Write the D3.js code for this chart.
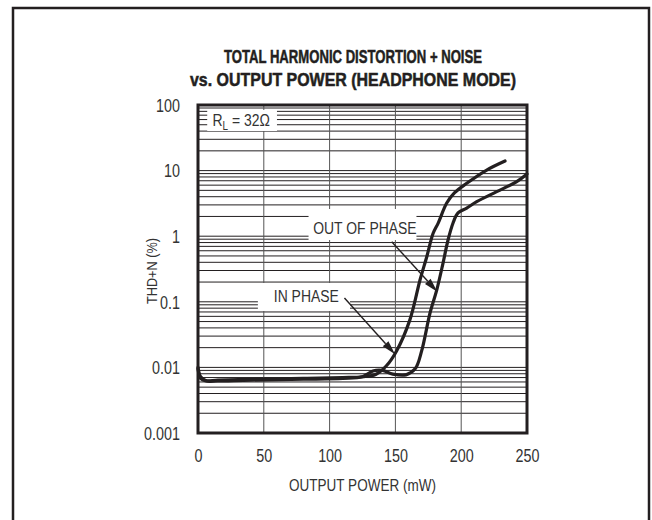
<!DOCTYPE html>
<html>
<head>
<meta charset="utf-8">
<script src="https://cdn.jsdelivr.net/npm/d3@7"></script>
<style>
  html, body { margin: 0; padding: 0; background: #fff; }
  svg { display: block; }
</style>
</head>
<body>
<svg id="chart" width="652" height="520"></svg>
<script>
// THD+N vs output power, headphone mode, RL = 32 ohm
const titleLines = ["TOTAL HARMONIC DISTORTION + NOISE", "vs. OUTPUT POWER (HEADPHONE MODE)"];
const xTicks = [0, 50, 100, 150, 200, 250];
const yTicks = [0.001, 0.01, 0.1, 1, 10, 100];
const yTickLabels = ["0.001", "0.01", "0.1", "1", "10", "100"];
const xTitle = "OUTPUT POWER (mW)";
const yTitle = "THD+N (%)";

// In-phase drive
const powerIn = [0, 2, 6, 15, 40, 80, 110, 125, 135, 143, 151, 161, 168.7, 174, 178.6, 182.6, 189, 195, 204.2, 219.4, 233.3];
const thdIn   = [0.0100, 0.0072, 0.0063, 0.0064, 0.0066, 0.0068, 0.0070, 0.0072, 0.0078, 0.0105, 0.018, 0.053, 0.215, 0.5, 1.1, 1.6, 3.2, 4.6, 6.4, 10.2, 14.0];

// Out-of-phase drive
const powerOut = [0, 2, 6, 15, 40, 80, 110, 125, 133, 140, 148, 158, 165, 170, 176.3, 181.4, 186.2, 190, 193.8, 197.6, 204.2, 211.8, 227, 242.2, 250];
const thdOut   = [0.0095, 0.0068, 0.0062, 0.0062, 0.0064, 0.0066, 0.0068, 0.0072, 0.0088, 0.0090, 0.0079, 0.0077, 0.0095, 0.018, 0.0675, 0.151, 0.39, 0.875, 1.59, 2.26, 2.69, 3.36, 4.77, 6.78, 8.87];

const seriesNames = ["IN PHASE", "OUT OF PHASE"];
const loadLabel = { main: "R", sub: "L", rest: " = 32\u03A9" };

const svg = d3.select("#chart");
const plot = { left: 198, right: 527, top: 105, bottom: 433 };

const FONT = "'Liberation Sans', Arial, sans-serif";
const NARROW = 0.82;

const x = d3.scaleLinear().domain([0, 250]).range([plot.left, plot.right]);
const y = d3.scaleLog().domain([0.001, 100]).range([plot.bottom, plot.top]);

// outer frame
svg.append("rect")
  .attr("x", 13).attr("y", 8).attr("width", 636).attr("height", 540)
  .attr("fill", "none").attr("stroke", "#231f20").attr("stroke-width", 2.5);

// condensed text helper
function ctext(parent, px, py, str, size, opts = {}) {
  const t = parent.append("text")
    .attr("transform", `translate(${px},${py}) ${opts.rotate ? "rotate(" + opts.rotate + ")" : ""} scale(${opts.sx || NARROW},1)`)
    .attr("font-family", FONT)
    .attr("font-size", size)
    .attr("font-weight", opts.weight || "normal")
    .attr("fill", opts.fill || "#333")
    .attr("text-anchor", opts.anchor || "middle")
    .text(str);
  return t;
}

// title
const titleWidths = [258, 326];
titleLines.forEach((s, i) => {
  svg.append("text")
    .attr("x", 353).attr("y", 63 + i * 23)
    .attr("font-family", FONT).attr("font-size", 18).attr("font-weight", "bold")
    .attr("fill", "#231f20").attr("stroke", "#231f20").attr("stroke-width", 0.5)
    .attr("text-anchor", "middle")
    .attr("textLength", titleWidths[i]).attr("lengthAdjust", "spacingAndGlyphs")
    .text(s);
});

// grid: horizontal lines at every minor decade step
const gridVals = [];
for (let e = -3; e <= 1; e++) for (let k = 1; k <= 9; k++) gridVals.push(k * Math.pow(10, e));
gridVals.push(100);

const grid = svg.append("g");
grid.selectAll("line.h").data(gridVals).join("line")
  .attr("class", "h")
  .attr("x1", plot.left).attr("x2", plot.right)
  .attr("y1", d => y(d)).attr("y2", d => y(d))
  .attr("stroke", "#231f20").attr("stroke-width", 1);

grid.selectAll("line.v").data(xTicks.slice(1, -1)).join("line")
  .attr("class", "v")
  .attr("x1", d => x(d)).attr("x2", d => x(d))
  .attr("y1", plot.top).attr("y2", plot.bottom)
  .attr("stroke", "#555").attr("stroke-width", 1);

// label backgrounds that mask the grid
const boxes = svg.append("g");
function maskBox(x0, y0, x1, y1) {
  boxes.append("rect").attr("x", x0).attr("y", y0).attr("width", x1 - x0).attr("height", y1 - y0).attr("fill", "#fff");
}
maskBox(x(7), 110, x(60), 131);
maskBox(x(84), 209, x(166), 240);
maskBox(x(45.5), 283, x(115.5), 311);

// curves
const line = d3.line()
  .x(d => x(d[0])).y(d => y(d[1]))
  .curve(d3.curveCatmullRom.alpha(0.5));

const series = [
  d3.zip(powerIn, thdIn),
  d3.zip(powerOut, thdOut)
];
svg.append("g").selectAll("path").data(series).join("path")
  .attr("d", line)
  .attr("fill", "none")
  .attr("stroke", "#231f20")
  .attr("stroke-width", 3.2)
  .attr("stroke-linejoin", "round")
  .attr("stroke-linecap", "round");

// plot frame
svg.append("rect")
  .attr("x", plot.left).attr("y", plot.top)
  .attr("width", plot.right - plot.left).attr("height", plot.bottom - plot.top)
  .attr("fill", "none").attr("stroke", "#231f20").attr("stroke-width", 3);

// axes (labels only)
const yAxis = svg.append("g")
  .attr("transform", `translate(${plot.left},0)`)
  .call(d3.axisLeft(y).tickValues(yTicks).tickSize(0).tickFormat((d, i) => yTickLabels[i]));
const xAxis = svg.append("g")
  .attr("transform", `translate(0,${plot.bottom})`)
  .call(d3.axisBottom(x).tickValues(xTicks).tickSize(0).tickFormat(d3.format("d")));
[yAxis, xAxis].forEach(a => {
  a.select(".domain").remove();
  a.selectAll("text")
    .attr("font-family", FONT)
    .attr("font-size", 17.5)
    .attr("fill", "#333");
});
yAxis.selectAll("text")
  .attr("x", null).attr("dy", null)
  .attr("transform", `translate(-18,6.3) scale(${NARROW},1)`);
xAxis.selectAll("text")
  .attr("y", null).attr("dy", null)
  .attr("transform", `translate(0,29) scale(${NARROW},1)`);

// axis titles
ctext(svg, (plot.left + plot.right) / 2, 491, xTitle, 16.5);
ctext(svg, 157, (plot.top + plot.bottom) / 2 + 2, yTitle, 15.5, { rotate: -90 });

// load annotation
const rl = ctext(svg, x(11), 126, "", 17, { anchor: "start" });
rl.append("tspan").text(loadLabel.main);
rl.append("tspan").attr("font-size", 12).attr("dy", 4).text(loadLabel.sub);
rl.append("tspan").attr("dy", -4).text(loadLabel.rest);

// series labels
ctext(svg, x(87.5), 234, seriesNames[1], 17, { anchor: "start" });
ctext(svg, x(57.6), 302, seriesNames[0], 17, { anchor: "start" });

// arrows
function arrow(p0, v0, p1, v1) {
  const x0 = x(p0), y0 = y(v0), x1 = x(p1), y1 = y(v1);
  const ang = Math.atan2(y1 - y0, x1 - x0);
  const L = 14, hw = 3.8;
  const bx = x1 - L * Math.cos(ang), by = y1 - L * Math.sin(ang);
  svg.append("line").attr("x1", x0).attr("y1", y0).attr("x2", bx).attr("y2", by)
    .attr("stroke", "#231f20").attr("stroke-width", 1.4);
  const nx = -Math.sin(ang) * hw, ny = Math.cos(ang) * hw;
  svg.append("path")
    .attr("d", `M${x1},${y1}L${bx + nx},${by + ny}L${bx - nx},${by - ny}Z`)
    .attr("fill", "#231f20");
}
arrow(147.2, 0.824, 181.8, 0.1426);
arrow(111.3, 0.114, 149.7, 0.0159);
</script>
</body>
</html>
